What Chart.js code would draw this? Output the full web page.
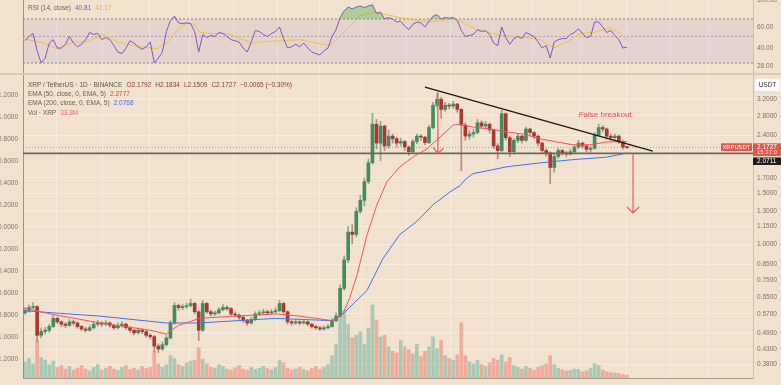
<!DOCTYPE html>
<html>
<head>
<meta charset="utf-8">
<script src="https://cdn.jsdelivr.net/npm/chart.js@4.4.1/dist/chart.umd.min.js"></script>
<style>
  html, body { margin: 0; padding: 0; background: #f1e2d0; }
  #wrap { position: relative; width: 781px; height: 385px; overflow: hidden; font-family: "Liberation Sans", Arial, sans-serif; }
  #rsi { position: absolute; left: 0; top: 0; }
  #price { position: absolute; left: 0; top: 75px; }
  .sep { position: absolute; left: 0; top: 73px; width: 781px; height: 2px; background: #dcc9b3; }
  .lg { position: absolute; font-size: 6.5px; line-height: 9px; color: #6b645c; white-space: nowrap; }
  .lg span { margin-left: 4px; }
</style>
</head>
<body>
<div id="wrap">
  <canvas id="rsi" width="781" height="73"></canvas>
  <div class="sep"></div>
  <canvas id="price" width="781" height="310"></canvas>
</div>
<script>
// daily candles, XRP / TetherUS
const opens = [
  0.575, 0.585, 0.600, 0.605, 0.480, 0.495, 0.500, 0.515, 0.550, 0.535,
  0.525, 0.520, 0.535, 0.530, 0.515, 0.505, 0.500, 0.510, 0.525, 0.530,
  0.525, 0.530, 0.520, 0.510, 0.520, 0.525, 0.510, 0.500, 0.490, 0.500,
  0.495, 0.480, 0.475, 0.440, 0.430, 0.445, 0.470, 0.530, 0.610, 0.600,
  0.605, 0.610, 0.620, 0.580, 0.500, 0.620, 0.580, 0.570, 0.575, 0.590,
  0.600, 0.595, 0.570, 0.565, 0.555, 0.540, 0.530, 0.545, 0.570, 0.575,
  0.580, 0.575, 0.580, 0.585, 0.620, 0.580, 0.535, 0.530, 0.535, 0.530,
  0.535, 0.525, 0.515, 0.510, 0.505, 0.510, 0.515, 0.540, 0.560, 0.700,
  0.880, 1.100, 1.080, 1.300, 1.420, 1.650, 1.920, 2.620, 2.250, 2.580,
  2.200, 2.380, 2.330, 2.250, 2.280, 2.180, 2.100, 2.280, 2.380, 2.360,
  2.260, 2.550, 3.050, 3.200, 2.950, 3.050, 3.030, 3.080, 2.950, 2.600,
  2.380, 2.420, 2.450, 2.650, 2.580, 2.620, 2.500, 2.200, 2.120, 2.850,
  2.350, 2.100, 2.300, 2.380, 2.300, 2.520, 2.450, 2.380, 2.250, 2.120,
  2.080, 1.850, 2.020, 2.120, 2.080, 2.060, 2.100, 2.180, 2.250, 2.200,
  2.140, 2.160, 2.400, 2.550, 2.520, 2.380, 2.350, 2.380, 2.280, 2.1792
];
const highs = [
  0.595, 0.612, 0.625, 0.610, 0.510, 0.512, 0.525, 0.562, 0.556, 0.540,
  0.532, 0.546, 0.542, 0.534, 0.520, 0.512, 0.518, 0.534, 0.542, 0.536,
  0.540, 0.534, 0.524, 0.530, 0.536, 0.530, 0.515, 0.505, 0.510, 0.506,
  0.499, 0.486, 0.480, 0.448, 0.455, 0.480, 0.540, 0.625, 0.618, 0.615,
  0.622, 0.642, 0.625, 0.585, 0.635, 0.625, 0.588, 0.585, 0.600, 0.615,
  0.608, 0.600, 0.578, 0.570, 0.560, 0.546, 0.555, 0.580, 0.586, 0.592,
  0.588, 0.590, 0.598, 0.635, 0.626, 0.585, 0.542, 0.545, 0.540, 0.544,
  0.540, 0.530, 0.520, 0.516, 0.518, 0.524, 0.550, 0.575, 0.720, 0.910,
  1.150, 1.170, 1.340, 1.480, 1.700, 1.980, 2.860, 2.720, 2.680, 2.600,
  2.500, 2.420, 2.360, 2.340, 2.300, 2.200, 2.320, 2.420, 2.410, 2.380,
  2.600, 3.120, 3.350, 3.250, 3.120, 3.100, 3.150, 3.100, 2.970, 2.650,
  2.480, 2.520, 2.720, 2.690, 2.680, 2.640, 2.520, 2.240, 2.930, 2.870,
  2.380, 2.340, 2.420, 2.400, 2.560, 2.540, 2.470, 2.400, 2.270, 2.150,
  2.100, 2.060, 2.160, 2.140, 2.110, 2.140, 2.220, 2.300, 2.270, 2.220,
  2.200, 2.450, 2.620, 2.590, 2.540, 2.420, 2.420, 2.400, 2.300, 2.1834
];
const lows = [
  0.568, 0.578, 0.592, 0.455, 0.470, 0.485, 0.492, 0.510, 0.528, 0.515,
  0.510, 0.515, 0.522, 0.508, 0.498, 0.492, 0.496, 0.505, 0.518, 0.516,
  0.519, 0.512, 0.502, 0.505, 0.514, 0.503, 0.492, 0.482, 0.485, 0.486,
  0.472, 0.465, 0.420, 0.418, 0.425, 0.440, 0.465, 0.525, 0.588, 0.590,
  0.596, 0.602, 0.570, 0.460, 0.495, 0.572, 0.560, 0.562, 0.570, 0.584,
  0.586, 0.563, 0.556, 0.545, 0.532, 0.520, 0.525, 0.540, 0.562, 0.568,
  0.566, 0.570, 0.574, 0.580, 0.572, 0.525, 0.520, 0.524, 0.522, 0.525,
  0.518, 0.508, 0.502, 0.498, 0.500, 0.504, 0.512, 0.535, 0.555, 0.690,
  0.860, 1.000, 1.060, 1.280, 1.360, 1.620, 1.900, 2.150, 1.950, 2.120,
  2.160, 2.250, 2.180, 2.200, 2.120, 2.040, 2.080, 2.240, 2.300, 2.220,
  2.240, 2.520, 3.000, 2.750, 2.900, 2.960, 2.980, 2.880, 1.800, 2.300,
  2.320, 2.360, 2.420, 2.520, 2.540, 2.440, 2.150, 1.980, 2.100, 2.300,
  2.020, 2.060, 2.260, 2.250, 2.280, 2.400, 2.330, 2.200, 2.080, 2.020,
  1.620, 1.780, 1.990, 2.040, 2.020, 2.040, 2.070, 2.150, 2.160, 2.100,
  2.090, 2.140, 2.380, 2.460, 2.340, 2.300, 2.320, 2.240, 2.140, 2.1509
];
const closes = [
  0.585, 0.600, 0.605, 0.480, 0.495, 0.500, 0.515, 0.550, 0.535, 0.525,
  0.520, 0.535, 0.530, 0.515, 0.505, 0.500, 0.510, 0.525, 0.530, 0.525,
  0.530, 0.520, 0.510, 0.520, 0.525, 0.510, 0.500, 0.490, 0.500, 0.495,
  0.480, 0.475, 0.440, 0.430, 0.445, 0.470, 0.530, 0.610, 0.600, 0.605,
  0.610, 0.620, 0.580, 0.500, 0.620, 0.580, 0.570, 0.575, 0.590, 0.600,
  0.595, 0.570, 0.565, 0.555, 0.540, 0.530, 0.545, 0.570, 0.575, 0.580,
  0.575, 0.580, 0.585, 0.620, 0.580, 0.535, 0.530, 0.535, 0.530, 0.535,
  0.525, 0.515, 0.510, 0.505, 0.510, 0.515, 0.540, 0.560, 0.700, 0.880,
  1.100, 1.080, 1.300, 1.420, 1.650, 1.920, 2.620, 2.250, 2.580, 2.200,
  2.380, 2.330, 2.250, 2.280, 2.180, 2.100, 2.280, 2.380, 2.360, 2.260,
  2.550, 3.050, 3.200, 2.950, 3.050, 3.030, 3.080, 2.950, 2.600, 2.380,
  2.420, 2.450, 2.650, 2.580, 2.620, 2.500, 2.200, 2.120, 2.850, 2.350,
  2.100, 2.300, 2.380, 2.300, 2.520, 2.450, 2.380, 2.250, 2.120, 2.080,
  1.850, 2.020, 2.120, 2.080, 2.060, 2.100, 2.180, 2.250, 2.200, 2.140,
  2.160, 2.400, 2.550, 2.520, 2.380, 2.350, 2.380, 2.280, 2.180, 2.1727
];
// volume, millions of XRP
const volumes = [
  180, 220, 160, 420, 230, 200, 150, 190, 120, 140,
  100, 130, 90, 110, 140, 100, 80, 120, 150, 90,
  110, 130, 100, 85, 120, 140, 95, 110, 90, 130,
  105, 120, 300, 160, 120, 150, 250, 220, 150, 130,
  170, 190, 200, 340, 210, 160, 120, 110, 150, 130,
  100, 90, 115, 140, 100, 85, 120, 95, 110, 130,
  105, 90, 120, 200, 170, 110, 90, 100, 120, 95,
  80, 110, 130, 100, 120, 150, 250, 380, 700, 760,
  600, 450, 480, 520, 380, 560, 820, 650, 460, 480,
  350, 300, 280, 420, 350, 320, 270, 380, 240, 300,
  350, 460, 330, 420, 250, 220, 200, 260, 620, 250,
  180, 160, 200, 150, 130, 170, 220, 200, 260, 180,
  230, 140, 120, 100, 130, 110, 90, 120, 140, 160,
  250, 150, 110, 90, 80, 85, 100, 95, 70, 80,
  110, 160, 140, 90, 70, 60, 55, 50, 40, 33.3
];
// RSI (14) per candle
const rsiVals = [
  46, 50, 53, 38, 30, 33, 44, 47, 40, 40,
  43, 50, 44, 41, 43, 47, 54, 52, 53, 47,
  49, 47, 42, 37, 36, 40, 46, 44, 41, 39,
  41, 45, 30, 33, 37, 55, 68, 74, 65, 64,
  65, 64, 55, 37, 52, 49, 51, 50, 54, 53,
  50, 47, 46, 45, 40, 37, 45, 56, 55, 52,
  50, 53, 55, 60, 48, 40, 41, 43, 41, 44,
  40, 37, 36, 35, 38, 40, 50, 57, 72, 82,
  88, 85, 88, 90, 87, 90, 92, 78, 80, 70,
  72, 70, 66, 67, 61, 57, 63, 66, 65, 60,
  67, 74, 76, 70, 72, 71, 72, 68, 56, 50,
  51, 52, 57, 55, 56, 52, 44, 42, 60, 49,
  43, 48, 50, 48, 54, 52, 50, 45, 40, 42,
  33, 45, 47, 48, 48, 52, 54, 58, 53, 49,
  50, 66, 66, 60, 54, 56, 51, 47, 40, 40.81
];
// RSI moving average, read at candle positions
const rsiMaIdx = [-0.5, 4.5, 8, 12, 15.3, 19.3, 22.8, 28.5, 32.7, 35.1, 38.4, 40.3, 42, 43.3, 46.5, 50, 53.2, 56.4, 58.2, 68, 75.5, 79.2, 83, 86.6, 92.8, 100.2, 106.4, 111.4, 117.6, 122.5, 127.5, 130.7, 134.2, 137.4, 140.6, 144.8, 147.3, 149.3];
const rsiMaVals = [48, 44, 39.5, 45, 45, 52, 45, 41, 39.5, 44, 60, 65, 63, 54, 53, 53, 48, 44, 45, 47, 42, 55, 75, 80, 72, 66, 70, 58, 51, 50, 47, 40, 45, 53, 54, 59, 53, 46];

// EMA lines, read at candle positions
const ema50Idx = [-0.5, 6.2, 18.6, 31, 35, 38, 43.3, 51.5, 62.4, 68, 76.2, 78.7, 80.4, 82.2, 84.7, 87.1, 89.6, 92.8, 96, 99.5, 102.7, 106, 107.7, 110.9, 115.1, 119.3, 123.3, 127.5, 131.7, 135.6, 139.9, 144, 149];
const ema50Vals = [0.60, 0.57, 0.53, 0.50, 0.485, 0.52, 0.55, 0.56, 0.57, 0.56, 0.54, 0.57, 0.65, 0.78, 1.08, 1.37, 1.65, 1.86, 2.01, 2.15, 2.36, 2.60, 2.62, 2.56, 2.52, 2.46, 2.42, 2.33, 2.27, 2.22, 2.22, 2.27, 2.2777];
const ema200Idx = [-0.5, 18.6, 35, 43, 62, 76, 78.7, 84.7, 88.6, 92.8, 97, 101, 105.2, 107.7, 109, 110.9, 119.3, 127.5, 135.6, 144, 149];
const ema200Vals = [0.585, 0.56, 0.53, 0.53, 0.55, 0.54, 0.57, 0.69, 0.89, 1.08, 1.20, 1.37, 1.52, 1.60, 1.68, 1.76, 1.86, 1.92, 1.97, 2.01, 2.0768];

// drawings on the chart
const trendIdx = [99, 155.4];
const trendVals = [3.53, 2.11];
const hLevel = 2.0711;
const lastClose = 2.1727;
const arrow1Idx = [102.2, 102.2, null, 101, 102.2, 103.6];
const arrow1Vals = [3.39, 2.075, null, 2.17, 2.075, 2.16];
const arrow2Idx = [150.5, 150.5, null, 149, 150.5, 152];
const arrow2Vals = [2.0711, 1.283, null, 1.346, 1.283, 1.346];
const noteText = 'False breakout';
const noteAt = [143.6, 2.82];

// axes
const xMin = -0.495, xMax = 180.2;
const priceMin = 0.3406, priceMax = 3.89;
const priceTicks = [3.2, 2.8, 2.4, 1.7, 1.5, 1.3, 1.15, 1.0, 0.85, 0.75, 0.65, 0.57, 0.49, 0.43, 0.38];
const leftTicks = [1.2, 1.0, 0.8, 0.6, 0.4, 0.2, 0, -0.2, -0.4, -0.6, -0.8, -1.0, -1.2];
const rsiMin = 24.75, rsiMax = 100.93;
const rsiTicks = [100, 60, 40, 28];
const rsiLevels = [70, 50, 30];
const timeGrid = [7.9, 19.3, 30.9, 40.8, 51.5, 62.4, 73.0, 83.4, 94.5, 105.2, 115.8, 125.7, 137.4, 149.0, 159.7, 169.1];

Chart.defaults.font.family = '"Liberation Sans", Arial, sans-serif';
Chart.defaults.font.size = 6.5;

const pts = (xs, ys) => xs.map((x, i) => ({ x: x, y: ys[i] }));
const isUp = closes.map((c, i) => c >= opens[i]);

function fixSize(w, h) {
  return s => {
    if (w !== null) s.width = w;
    if (h !== null) s.height = h;
    s.paddingTop = 0; s.paddingBottom = 0; s.paddingLeft = 0; s.paddingRight = 0;
  };
}
const setTicks = list => s => { s.ticks = list.map(v => ({ value: v })); };

const lineDs = (data, color, width, order, extra) => Object.assign({
  type: 'line', data: data, borderColor: color, borderWidth: width,
  pointRadius: 0, tension: 0, yAxisID: 'y', order: order, spanGaps: false
}, extra || {});

// ---- RSI pane ----
new Chart(document.getElementById('rsi'), {
  type: 'line',
  data: {
    datasets: [
      lineDs(rsiVals.map((v, i) => ({ x: i, y: v })), '#7e57c2', 1, 0, {
        fill: { target: { value: 70 }, above: 'rgba(92,180,90,0.45)', below: 'rgba(0,0,0,0)' }
      }),
      lineDs(pts(rsiMaIdx, rsiMaVals), '#f0c23e', 1, 1),
      lineDs([{ x: xMin, y: rsiLevels[0] }, { x: xMax, y: rsiLevels[0] }], '#8d857c', 1, 2, {
        borderDash: [2, 2], fill: { target: { value: rsiLevels[2] } }, backgroundColor: 'rgba(126,87,194,0.10)'
      }),
      lineDs([{ x: xMin, y: rsiLevels[1] }, { x: xMax, y: rsiLevels[1] }], 'rgba(141,133,124,0.6)', 1, 3, { borderDash: [2, 2] }),
      lineDs([{ x: xMin, y: rsiLevels[2] }, { x: xMax, y: rsiLevels[2] }], '#8d857c', 1, 4, { borderDash: [2, 2] })
    ]
  },
  options: {
    responsive: false, animation: false, events: [],
    layout: { padding: 0 },
    plugins: { legend: { display: false }, tooltip: { enabled: false } },
    scales: {
      x: {
        type: 'linear', min: xMin, max: xMax, offset: false, bounds: 'data',
        grid: { color: 'rgba(255,255,255,0.3)', drawTicks: false },
        ticks: { display: false }, border: { display: false },
        afterBuildTicks: setTicks(timeGrid), afterFit: fixSize(null, 0)
      },
      y: {
        type: 'logarithmic', position: 'right', min: rsiMin, max: rsiMax, bounds: 'data',
        grid: { display: false, drawTicks: false }, border: { color: '#d0c1b0' },
        ticks: { color: '#7b746c', padding: 4, autoSkip: false, callback: v => Number(v).toFixed(2) },
        afterBuildTicks: setTicks(rsiTicks), afterFit: fixSize(28, null)
      },
      left: {
        type: 'linear', position: 'left', min: 0, max: 1,
        grid: { display: false, drawTicks: false }, border: { color: '#9c9389' },
        ticks: { display: false }, afterFit: fixSize(23, null)
      }
    }
  }
});

// ---- price pane ----
const tagsPlugin = {
  id: 'tags',
  afterDraw(chart) {
    const { ctx, chartArea: a, scales } = chart;
    const py = scales.y.getPixelForValue(lastClose);
    const font = '"Liberation Sans", Arial, sans-serif';
    ctx.save();
    ctx.textBaseline = 'middle';
    ctx.textAlign = 'center';
    ctx.font = '8px ' + font;
    ctx.fillStyle = '#ef4b54';
    ctx.fillText(noteText, scales.x.getPixelForValue(noteAt[0]), scales.y.getPixelForValue(noteAt[1]));

    ctx.fillStyle = '#e3584a';
    ctx.fillRect(a.right - 32, py - 4.2, 31, 7.7);
    ctx.fillRect(a.right, py - 4.2, 28, 12.7);
    ctx.fillStyle = '#1e1d1c';
    ctx.fillRect(a.right, py + 10, 28, 7.5);

    ctx.textAlign = 'left';
    ctx.fillStyle = '#ffffff';
    ctx.font = '5.8px ' + font;
    ctx.fillText('XRPUSDT', a.right - 30.5, py - 0.3);
    ctx.font = '6.5px ' + font;
    ctx.fillText(lastClose.toFixed(4), a.right + 4, py - 0.5);
    ctx.fillStyle = 'rgba(255,255,255,0.75)';
    ctx.font = '6px ' + font;
    ctx.fillText('15:37:0', a.right + 4, py + 5);
    ctx.fillStyle = '#ffffff';
    ctx.font = '6.5px ' + font;
    ctx.fillText(hLevel.toFixed(4), a.right + 4, py + 14);

    ctx.fillStyle = '#ffffff';
    ctx.beginPath();
    ctx.roundRect(a.right + 2, 4, 25, 12, 2);
    ctx.fill();
    ctx.fillStyle = '#3a3632';
    ctx.textAlign = 'center';
    ctx.font = '6.5px ' + font;
    ctx.fillText('USDT', a.right + 14.5, 10.3);
    ctx.restore();
  }
};

new Chart(document.getElementById('price'), {
  type: 'bar',
  data: {
    datasets: [
      lineDs(pts(trendIdx, trendVals), '#1b1a19', 1.4, 0),
      lineDs(pts(arrow1Idx, arrow1Vals), '#f0565e', 1.2, 0),
      lineDs(pts(arrow2Idx, arrow2Vals), '#f0565e', 1.2, 0),
      lineDs(pts(ema50Idx, ema50Vals), '#f2535b', 1, 1),
      lineDs(pts(ema200Idx, ema200Vals), '#4671ee', 1, 1),
      lineDs([{ x: xMin, y: hLevel }, { x: xMax, y: hLevel }], '#6e6760', 1.6, 1),
      lineDs([{ x: xMin, y: lastClose }, { x: xMax, y: lastClose }], 'rgba(232,80,80,0.65)', 1, 1, { borderDash: [1, 2] }),
      {
        data: closes.map((c, i) => ({ x: i, y: [Math.min(opens[i], c), Math.max(opens[i], c)] })),
        backgroundColor: isUp.map(u => u ? '#458b5d' : '#a63a2f'),
        barThickness: 3, minBarLength: 1, grouped: false, yAxisID: 'y', order: 2
      },
      {
        data: closes.map((c, i) => ({ x: i, y: [lows[i], highs[i]] })),
        backgroundColor: isUp.map(u => u ? '#8fa58f' : '#b98b82'),
        barThickness: 1, grouped: false, yAxisID: 'y', order: 3
      },
      {
        data: volumes.map((v, i) => ({ x: i, y: v })),
        backgroundColor: isUp.map(u => u ? 'rgba(72,168,140,0.42)' : 'rgba(240,96,80,0.42)'),
        barThickness: 3, grouped: false, yAxisID: 'vol', order: 5
      }
    ]
  },
  options: {
    responsive: false, animation: false, events: [],
    layout: { padding: 0 },
    plugins: { legend: { display: false }, tooltip: { enabled: false } },
    scales: {
      x: {
        type: 'linear', min: xMin, max: xMax, offset: false, bounds: 'data',
        grid: { color: 'rgba(255,255,255,0.3)', drawTicks: false, offset: false },
        ticks: { display: false }, border: { color: '#a99c8e' },
        afterBuildTicks: setTicks(timeGrid), afterFit: fixSize(null, 7)
      },
      y: {
        type: 'logarithmic', position: 'right', min: priceMin, max: priceMax, bounds: 'data',
        grid: { color: 'rgba(255,255,255,0.35)', drawTicks: false },
        border: { color: '#d0c1b0' },
        ticks: { color: '#7b746c', padding: 4, autoSkip: false, callback: v => Number(v).toFixed(4) },
        afterBuildTicks: setTicks(priceTicks), afterFit: fixSize(28, null)
      },
      left: {
        type: 'linear', position: 'left', min: -1.3727, max: 1.3818, bounds: 'data',
        grid: { display: false, drawTicks: false }, border: { color: '#9c9389' },
        ticks: { color: '#7b746c', padding: 5, autoSkip: false, callback: v => Math.abs(v).toFixed(4) },
        afterBuildTicks: setTicks(leftTicks), afterFit: fixSize(23, null)
      },
      vol: { type: 'linear', display: false, min: 0, max: 3400 }
    }
  },
  plugins: [tagsPlugin]
});

// legends: each row is a label followed by coloured values
const wrap = document.getElementById('wrap');
function row(x, cy, parts) {
  const d = document.createElement('div');
  d.className = 'lg';
  d.style.left = x + 'px';
  d.style.top = (cy - 4.5) + 'px';
  parts.forEach((p, i) => {
    const s = document.createElement(i === 0 ? 'b' : 'span');
    if (i === 0) s.style.fontWeight = 'normal';
    s.textContent = p[0];
    if (p[1]) s.style.color = p[1];
    d.appendChild(s);
  });
  wrap.appendChild(d);
}
row(28, 7, [['RSI (14, close)'], ['40.81', '#7e57c2'], ['42.17', '#e5b52c']]);
row(28, 84.3, [['XRP / TetherUS \u00b7 1D \u00b7 BINANCE', '#5e574f'], ['O2.1792', '#8c3b33'], ['H2.1834', '#8c3b33'],
  ['L2.1509', '#8c3b33'], ['C2.1727', '#8c3b33'], ['\u22120.0065 (\u22120.30%)', '#8c3b33']]);
row(28, 93.7, [['EMA (50, close, 0, EMA, 5)'], ['2.2777', '#ee3d48']]);
row(28, 102.7, [['EMA (200, close, 0, EMA, 5)'], ['2.0768', '#3f6ff2']]);
row(28, 112, [['Vol \u00b7 XRP'], ['33.3M', '#ef6f68']]);
</script>
</body>
</html>
